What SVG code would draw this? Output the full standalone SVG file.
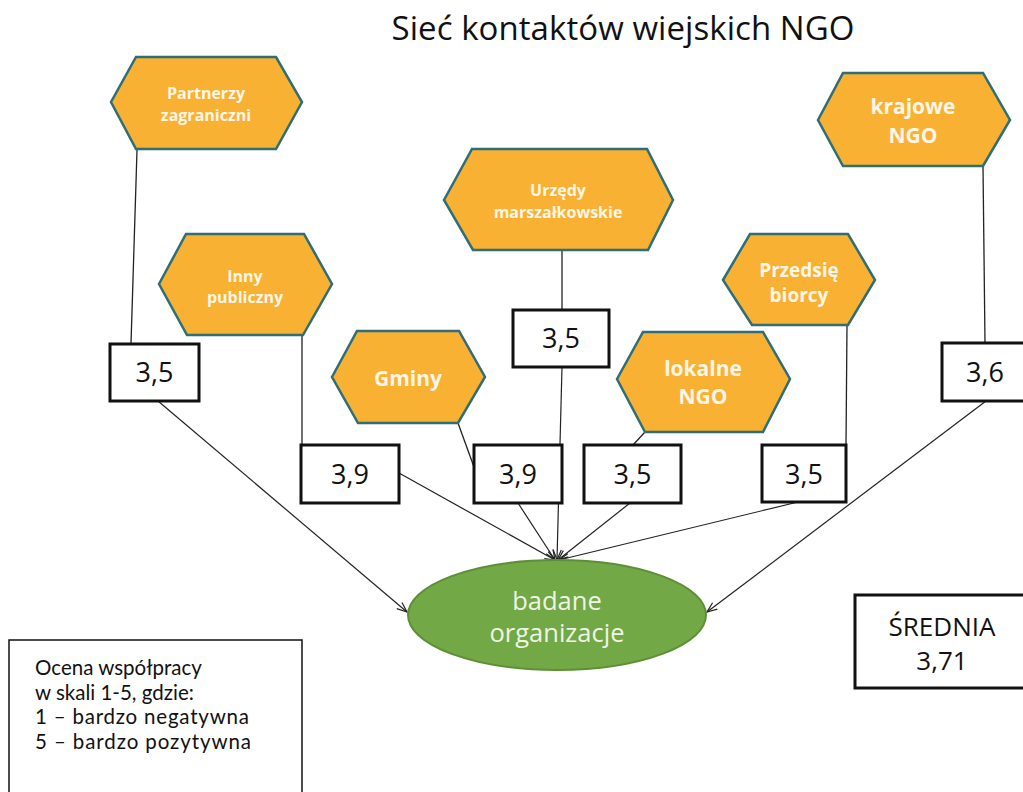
<svg xmlns="http://www.w3.org/2000/svg" width="1023" height="792" viewBox="0 0 1023 792">
<defs>
<marker id="arr" markerUnits="userSpaceOnUse" markerWidth="14" markerHeight="12" refX="11" refY="5" orient="auto">
<path d="M1,1 L11,5 L1,9" fill="none" stroke="#222" stroke-width="1.2"/>
</marker>
<style>
.hex{fill:#f8b133;stroke:#2f6e76;stroke-width:2.5}
.ht{font-family:"Open Sans","Noto Sans",sans-serif;font-weight:700;fill:#fdf6e6;text-anchor:middle}
.sm{font-size:16px}
.lg{font-size:21px}
.md{font-size:19px}
.box{fill:#fff;stroke:#111;stroke-width:3}
.num{font-family:"Open Sans","Noto Sans",sans-serif;font-size:27px;fill:#111;text-anchor:middle}
.ln{stroke:#222;stroke-width:1.3;fill:none}
.ar{stroke:#222;stroke-width:1.2;fill:none;marker-end:url(#arr)}
.lt{font-family:Lato,"Open Sans",sans-serif;font-size:20.5px;fill:#111}
</style>
</defs>
<rect width="1023" height="792" fill="#fff"/>
<text x="623" y="40" font-family="Open Sans,Noto Sans,sans-serif" font-size="33" fill="#111" text-anchor="middle" textLength="463">Sieć kontaktów wiejskich NGO</text>

<g id="connectors">
<line class="ln" x1="137" y1="150" x2="131" y2="344"/>
<line class="ar" x1="158" y1="401" x2="407" y2="612"/>
<line class="ln" x1="302" y1="335" x2="302" y2="445"/>
<line class="ar" x1="399" y1="473" x2="555" y2="560"/>
<line class="ln" x1="458" y1="423" x2="474" y2="467"/>
<line class="ar" x1="518" y1="503" x2="555" y2="560"/>
<line class="ln" x1="562" y1="250" x2="562" y2="310"/>
<line class="ar" x1="562" y1="367" x2="557" y2="560"/>
<line class="ln" x1="645" y1="432" x2="633" y2="445"/>
<line class="ar" x1="630" y1="503" x2="558" y2="560"/>
<line class="ln" x1="847" y1="325" x2="846" y2="445"/>
<line class="ar" x1="798" y1="502" x2="559" y2="560"/>
<line class="ln" x1="983" y1="166" x2="985" y2="343"/>
<line class="ar" x1="986" y1="401" x2="707" y2="612"/>
</g>

<g id="n-partnerzy">
<polygon class="hex" points="111,102 136,57 276,57 302,102 276,149 136,149"/>
<text class="ht sm" x="206" y="99">Partnerzy</text>
<text class="ht sm" x="206" y="121">zagraniczni</text>
</g>
<g id="n-inny">
<polygon class="hex" points="159,284 186,234 304,234 332,284 303,335 187,335"/>
<text class="ht sm" x="245" y="282">Inny</text>
<text class="ht sm" x="245" y="303">publiczny</text>
</g>
<g id="n-urzedy">
<polygon class="hex" points="444,200 472,149 647,149 673,200 648,250 473,250"/>
<text class="ht sm" x="558" y="196">Urzędy</text>
<text class="ht sm" x="558" y="218">marszałkowskie</text>
</g>
<g id="n-przedsie">
<polygon class="hex" points="723,280 750,234 848,234 875,280 848,325 752,325"/>
<text class="ht md" x="799" y="277">Przedsię</text>
<text class="ht md" x="799" y="302">biorcy</text>
</g>
<g id="n-krajowe">
<polygon class="hex" points="818,120 843,73 983,73 1010,120 983,166 843,166"/>
<text class="ht lg" x="913" y="114">krajowe</text>
<text class="ht lg" x="913" y="143">NGO</text>
</g>
<g id="n-gminy">
<polygon class="hex" points="332,377 357,331 459,331 485,377 458,423 358,423"/>
<text class="ht lg" x="408" y="386">Gminy</text>
</g>
<g id="n-lokalne">
<polygon class="hex" points="617,379 643,332 763,332 790,379 763,432 645,432"/>
<text class="ht lg" x="703" y="376">lokalne</text>
<text class="ht lg" x="703" y="404">NGO</text>
</g>

<g id="v-partnerzy"><rect class="box" x="110" y="344" width="89" height="57"/><text class="num" x="154.5" y="382">3,5</text></g>
<g id="v-urzedy"><rect class="box" x="513" y="310" width="96" height="57"/><text class="num" x="561" y="348">3,5</text></g>
<g id="v-krajowe"><rect class="box" x="942" y="343" width="90" height="58"/><text class="num" x="985" y="382">3,6</text></g>
<g id="v-inny"><rect class="box" x="301" y="445" width="98" height="58"/><text class="num" x="350" y="484">3,9</text></g>
<g id="v-gminy"><rect class="box" x="474" y="445" width="88" height="58"/><text class="num" x="518" y="484">3,9</text></g>
<g id="v-lokalne"><rect class="box" x="584" y="445" width="97" height="58"/><text class="num" x="632.5" y="484">3,5</text></g>
<g id="v-przedsie"><rect class="box" x="762" y="445" width="84" height="57"/><text class="num" x="804" y="484">3,5</text></g>

<g id="n-badane">
<ellipse cx="557" cy="615" rx="149" ry="55" fill="#72a845" stroke="#5e8f36" stroke-width="2"/>
<text x="557" y="610" font-family="Open Sans,Noto Sans,sans-serif" font-size="25.5" fill="#eef5e4" text-anchor="middle">badane</text>
<text x="557" y="642" font-family="Open Sans,Noto Sans,sans-serif" font-size="25.5" fill="#eef5e4" text-anchor="middle">organizacje</text>
</g>

<g id="srednia">
<rect x="855" y="595" width="180" height="93" fill="#fff" stroke="#111" stroke-width="3"/>
<text x="942" y="636" font-family="Open Sans,Noto Sans,sans-serif" font-size="26" fill="#111" text-anchor="middle">ŚREDNIA</text>
<text x="942" y="670" font-family="Open Sans,Noto Sans,sans-serif" font-size="26" fill="#111" text-anchor="middle">3,71</text>
</g>

<g id="legend">
<rect x="9" y="640" width="293" height="170" fill="#fff" stroke="#111" stroke-width="1.5"/>
<text class="lt" x="35" y="675">Ocena współpracy</text>
<text class="lt" x="35" y="699.5">w skali 1-5, gdzie:</text>
<text class="lt" x="35" y="724" textLength="214" lengthAdjust="spacing">1 – bardzo negatywna</text>
<text class="lt" x="35" y="748.5" textLength="216" lengthAdjust="spacing">5 – bardzo pozytywna</text>
</g>
</svg>
